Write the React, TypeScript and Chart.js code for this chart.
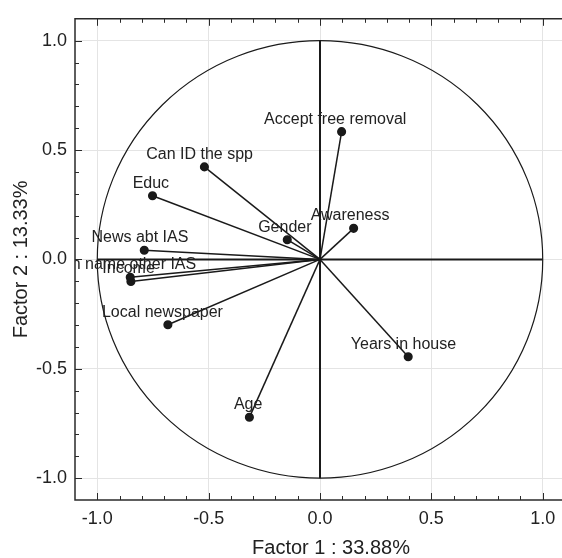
import { useEffect, useRef } from "react";
import { Chart, registerables } from "chart.js";

Chart.register(...registerables);

const variableNames = [
  "Accept free removal",
  "Can ID the spp",
  "Educ",
  "Gender",
  "Awareness",
  "News abt IAS",
  "Can name other IAS",
  "Income",
  "Local newspaper",
  "Years in house",
  "Age",
];
const factor1 = [0.097, -0.519, -0.752, -0.147, 0.151, -0.789, -0.852, -0.849, -0.683, 0.396, -0.317];
const factor2 = [0.584, 0.423, 0.291, 0.09, 0.142, 0.042, -0.082, -0.101, -0.299, -0.445, -0.722];
const tickValues = [-1.0, -0.5, 0.0, 0.5, 1.0];
const xTitle = "Factor 1 : 33.88%";
const yTitle = "Factor 2 : 13.33%";

const FONT = '"Liberation Sans", Arial, sans-serif';
const INK = "#1a1a1a";

export default function App() {
  const ref = useRef<HTMLCanvasElement>(null);

  useEffect(() => {
    if (!ref.current) return;

    const deco = {
      id: "deco",
      beforeDatasetsDraw(chart: any) {
        const { ctx, scales } = chart;
        const x = scales.x, y = scales.y;
        ctx.save();
        const cx = x.getPixelForValue(0);
        const cy = y.getPixelForValue(0);
        const rx = x.getPixelForValue(1) - cx;
        const ry = cy - y.getPixelForValue(1);
        ctx.strokeStyle = INK;
        ctx.lineWidth = 1.2;
        ctx.beginPath();
        ctx.ellipse(cx, cy, rx, ry, 0, 0, Math.PI * 2);
        ctx.stroke();
        ctx.lineWidth = 2;
        ctx.beginPath();
        ctx.moveTo(x.getPixelForValue(-1), cy);
        ctx.lineTo(x.getPixelForValue(1), cy);
        ctx.moveTo(cx, y.getPixelForValue(1));
        ctx.lineTo(cx, y.getPixelForValue(-1));
        ctx.stroke();
        ctx.restore();
      },
      afterDatasetsDraw(chart: any) {
        const { ctx, chartArea, scales } = chart;
        const x = scales.x, y = scales.y;
        ctx.save();
        ctx.beginPath();
        ctx.rect(chartArea.left, chartArea.top, chartArea.right - chartArea.left, chartArea.bottom - chartArea.top);
        ctx.clip();
        ctx.font = `16px ${FONT}`;
        ctx.fillStyle = "#222";
        ctx.textAlign = "center";
        ctx.textBaseline = "alphabetic";
        variableNames.forEach((name, i) => {
          const px = x.getPixelForValue(factor1[i]);
          const py = y.getPixelForValue(factor2[i]);
          const w = ctx.measureText(name).width;
          ctx.fillText(name, px - 0.045 * w, py - 8);
        });
        ctx.restore();
      },
      afterDraw(chart: any) {
        const { ctx, chartArea, scales } = chart;
        const x = scales.x, y = scales.y;
        const { left, right, top, bottom } = chartArea;
        ctx.save();
        ctx.strokeStyle = "#2a2a2a";
        ctx.lineWidth = 1.5;
        ctx.beginPath();
        ctx.moveTo(right + 5, top);
        ctx.lineTo(left, top);
        ctx.lineTo(left, bottom);
        ctx.lineTo(right + 5, bottom);
        ctx.stroke();
        ctx.lineWidth = 1;
        ctx.beginPath();
        for (let i = -10; i <= 10; i++) {
          const v = i / 10;
          const len = i % 5 === 0 ? 7 : 4;
          const px = Math.round(x.getPixelForValue(v)) + 0.5;
          const py = Math.round(y.getPixelForValue(v)) + 0.5;
          ctx.moveTo(px, bottom);
          ctx.lineTo(px, bottom - len);
          ctx.moveTo(px, top);
          ctx.lineTo(px, top + len);
          ctx.moveTo(left, py);
          ctx.lineTo(left + len, py);
        }
        ctx.stroke();
        ctx.fillStyle = "#222";
        ctx.font = `20px ${FONT}`;
        ctx.textAlign = "center";
        ctx.textBaseline = "alphabetic";
        ctx.fillText(xTitle, 331, 554);
        ctx.translate(27, (top + bottom) / 2);
        ctx.rotate(-Math.PI / 2);
        ctx.fillText(yTitle, 0, 0);
        ctx.restore();
      },
    };

    const datasets = variableNames.map((name, i) => ({
      label: name,
      data: [
        { x: 0, y: 0 },
        { x: factor1[i], y: factor2[i] },
      ],
      showLine: true,
      borderColor: INK,
      borderWidth: 1.5,
      backgroundColor: INK,
      pointBackgroundColor: INK,
      pointBorderColor: INK,
      pointRadius: (c: any) => (c.dataIndex === 1 ? 3.8 : 0),
      clip: false as any,
    }));

    const chart = new Chart(ref.current, {
      type: "scatter",
      data: { datasets },
      options: {
        responsive: false,
        animation: false,
        layout: { padding: { top: 10, right: 25, left: 0, bottom: 0 } },
        plugins: {
          legend: { display: false },
          tooltip: { enabled: false },
          title: { display: false },
        },
        scales: {
          x: {
            type: "linear",
            min: -1.1,
            max: 1.1,
            afterFit: (s: any) => {
              s.height = 58;
            },
            afterBuildTicks: (s: any) => {
              s.ticks = tickValues.map((v) => ({ value: v }));
            },
            ticks: {
              stepSize: 0.5,
              includeBounds: false,
              padding: 8,
              color: "#222",
              font: { family: FONT, size: 18 },
              callback: (v: any) => Number(v).toFixed(1),
            },
            grid: { color: "#e4e4e4", lineWidth: 1, drawTicks: false },
            border: { display: false },
          },
          y: {
            type: "linear",
            min: -1.1,
            max: 1.1,
            afterFit: (s: any) => {
              s.width = 75;
            },
            afterBuildTicks: (s: any) => {
              s.ticks = tickValues.map((v) => ({ value: v }));
            },
            ticks: {
              stepSize: 0.5,
              includeBounds: false,
              padding: 8,
              color: "#222",
              font: { family: FONT, size: 18 },
              callback: (v: any) => Number(v).toFixed(1),
            },
            grid: { color: "#e4e4e4", lineWidth: 1, drawTicks: false },
            border: { display: false },
          },
        },
      },
      plugins: [deco],
    });

    return () => chart.destroy();
  }, []);

  return (
    <div style={{ position: "fixed", left: 0, top: 0, width: 590, height: 558, background: "#fff" }}>
      <canvas ref={ref} width={590} height={558} style={{ display: "block" }} />
    </div>
  );
}
